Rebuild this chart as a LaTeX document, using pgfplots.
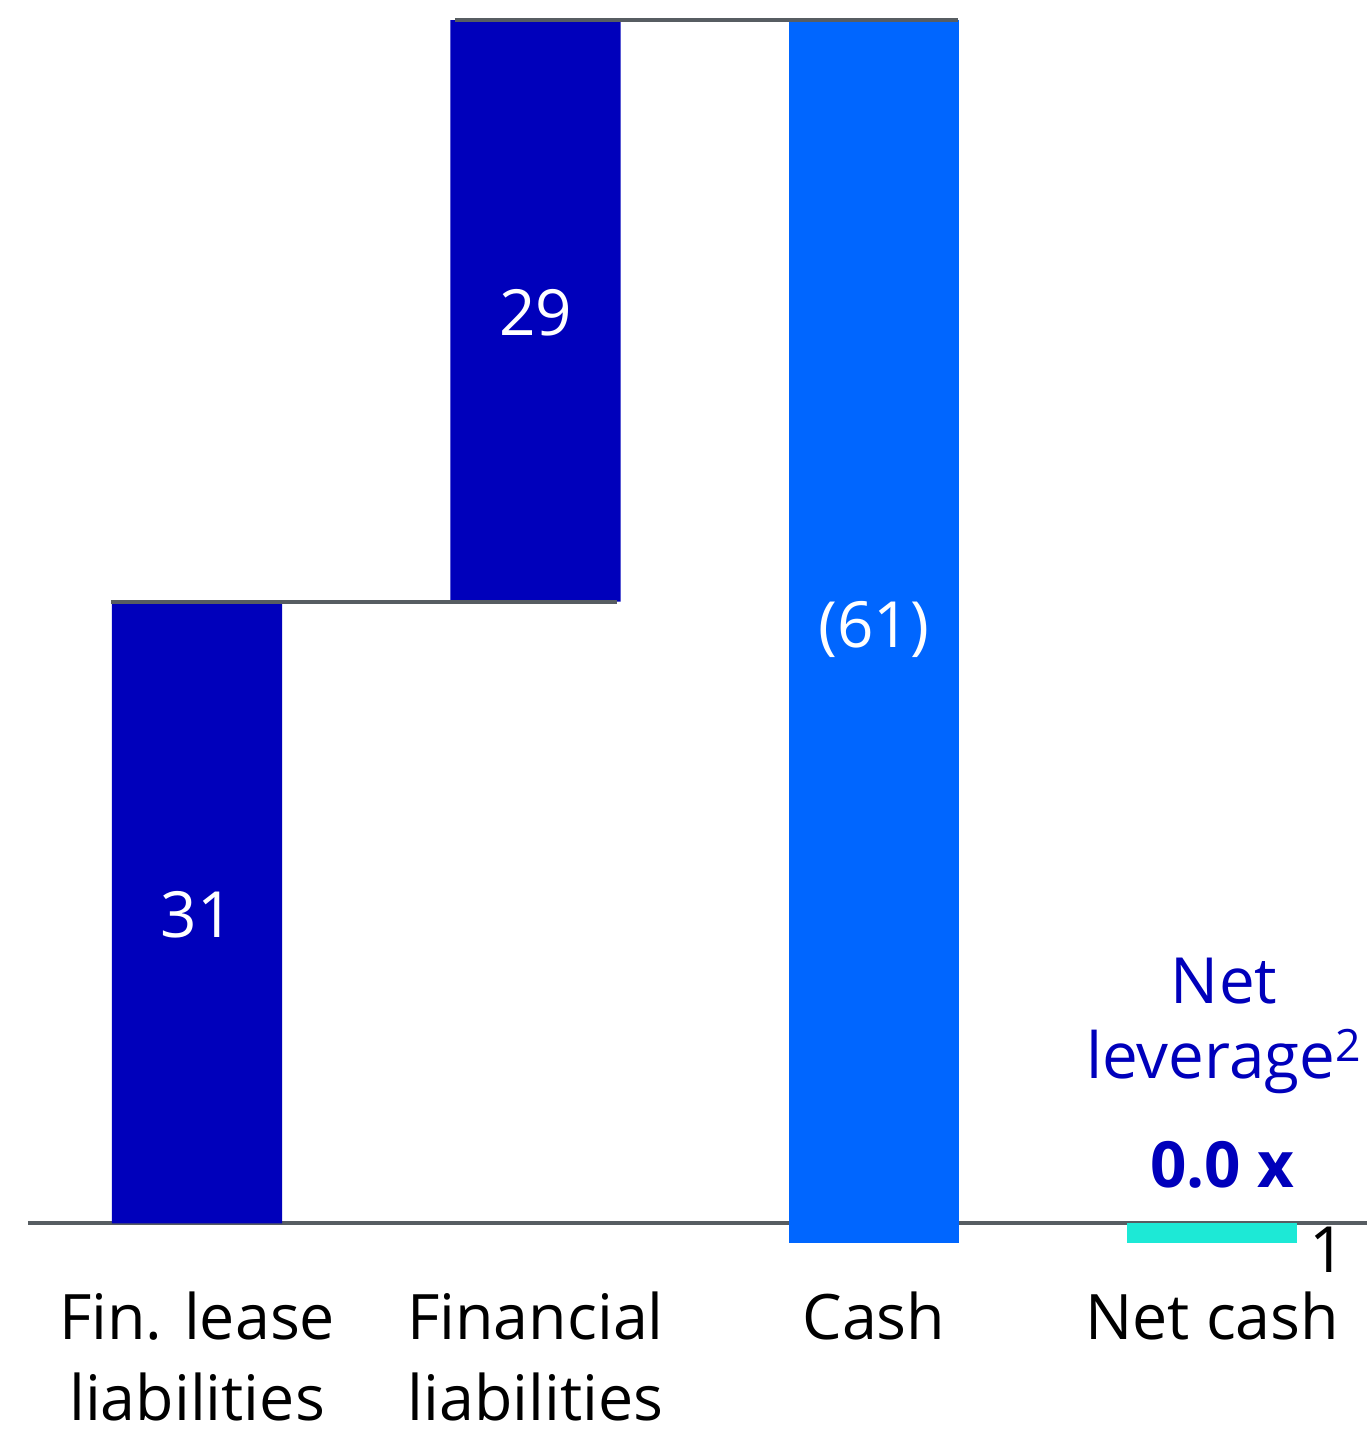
\documentclass[border=0pt]{standalone}
\usepackage{pgfplots}
\pgfplotsset{compat=1.18}
\usepackage{fontspec}
\setmainfont{Open Sans}
\definecolor{dblue}{HTML}{0000BB}
\definecolor{cblue}{HTML}{0066FF}
\definecolor{nteal}{HTML}{1DE9D6}
\definecolor{lgray}{HTML}{575D62}
\pgfplotsset{
  base/.style={scale only axis, width=672.5pt, height=629.7pt,
    xmin=-0.5, xmax=3.456, ymin=-1.5, ymax=61,
    axis line style={draw=none}, xtick=\empty, ytick=\empty, clip=false}
}
\begin{document}
\begin{tikzpicture}
% background: baseline
\begin{axis}[base]
\addplot[lgray, line width=2pt] coordinates {(-0.5,0) (3.456,0)};
\coordinate (bbl) at (axis cs:-0.5824,-10.85);
\coordinate (bbr) at (axis cs:3.456,61);
\end{axis}
% bars
\begin{axis}[base, ybar stacked, stack negative=on previous, bar width=0.503,
  xtick={0,1,2,3}, major tick length=0pt,
  xticklabels={{Fin. lease\\liabilities},{Financial\\liabilities},{Cash},{Net cash}},
  xticklabel style={font=\fontsize{31.5}{41}\selectfont, align=center, anchor=north, inner sep=0pt, text depth=0pt, yshift=-19pt, text=black}]
\addplot[draw=none, fill=none] coordinates {(0,0) (1,31) (2,-1) (3,0)};
\addplot[draw=none, fill=dblue] coordinates {(0,31) (1,29) (2,0) (3,0)};
\addplot[draw=none, fill=cblue] coordinates {(0,0) (1,0) (2,61) (3,0)};
\addplot[draw=none, fill=nteal] coordinates {(0,0) (1,0) (2,0) (3,-1)};
\end{axis}
% connectors and labels
\begin{axis}[base]
\addplot[lgray, line width=2pt] coordinates {(-0.253,31) (1.241,31)};
\addplot[lgray, line width=2pt] coordinates {(0.762,60) (2.25,60)};
\node[white, font=\fontsize{32}{38}\selectfont] at (axis cs:0,15.4) {31};
\node[white, font=\fontsize{32}{38}\selectfont] at (axis cs:1,45.4) {29};
\node[white, font=\fontsize{32}{38}\selectfont] at (axis cs:2,29.6) {(61)};
\node[dblue, font=\fontsize{32}{38}\selectfont, align=center, anchor=base] at (axis cs:3.035,7.2) {Net\\leverage\textsuperscript{2}};
\node[dblue, font=\bfseries\fontsize{32}{38}\selectfont, anchor=base] at (axis cs:3.03,1.79) {0.0 x};
\node[black, font=\fontsize{32}{38}\selectfont, anchor=base] at (axis cs:3.34,-2.43) {1};
\end{axis}
\pgfresetboundingbox
\path[use as bounding box] (bbl) rectangle (bbr);
\end{tikzpicture}
\end{document}
